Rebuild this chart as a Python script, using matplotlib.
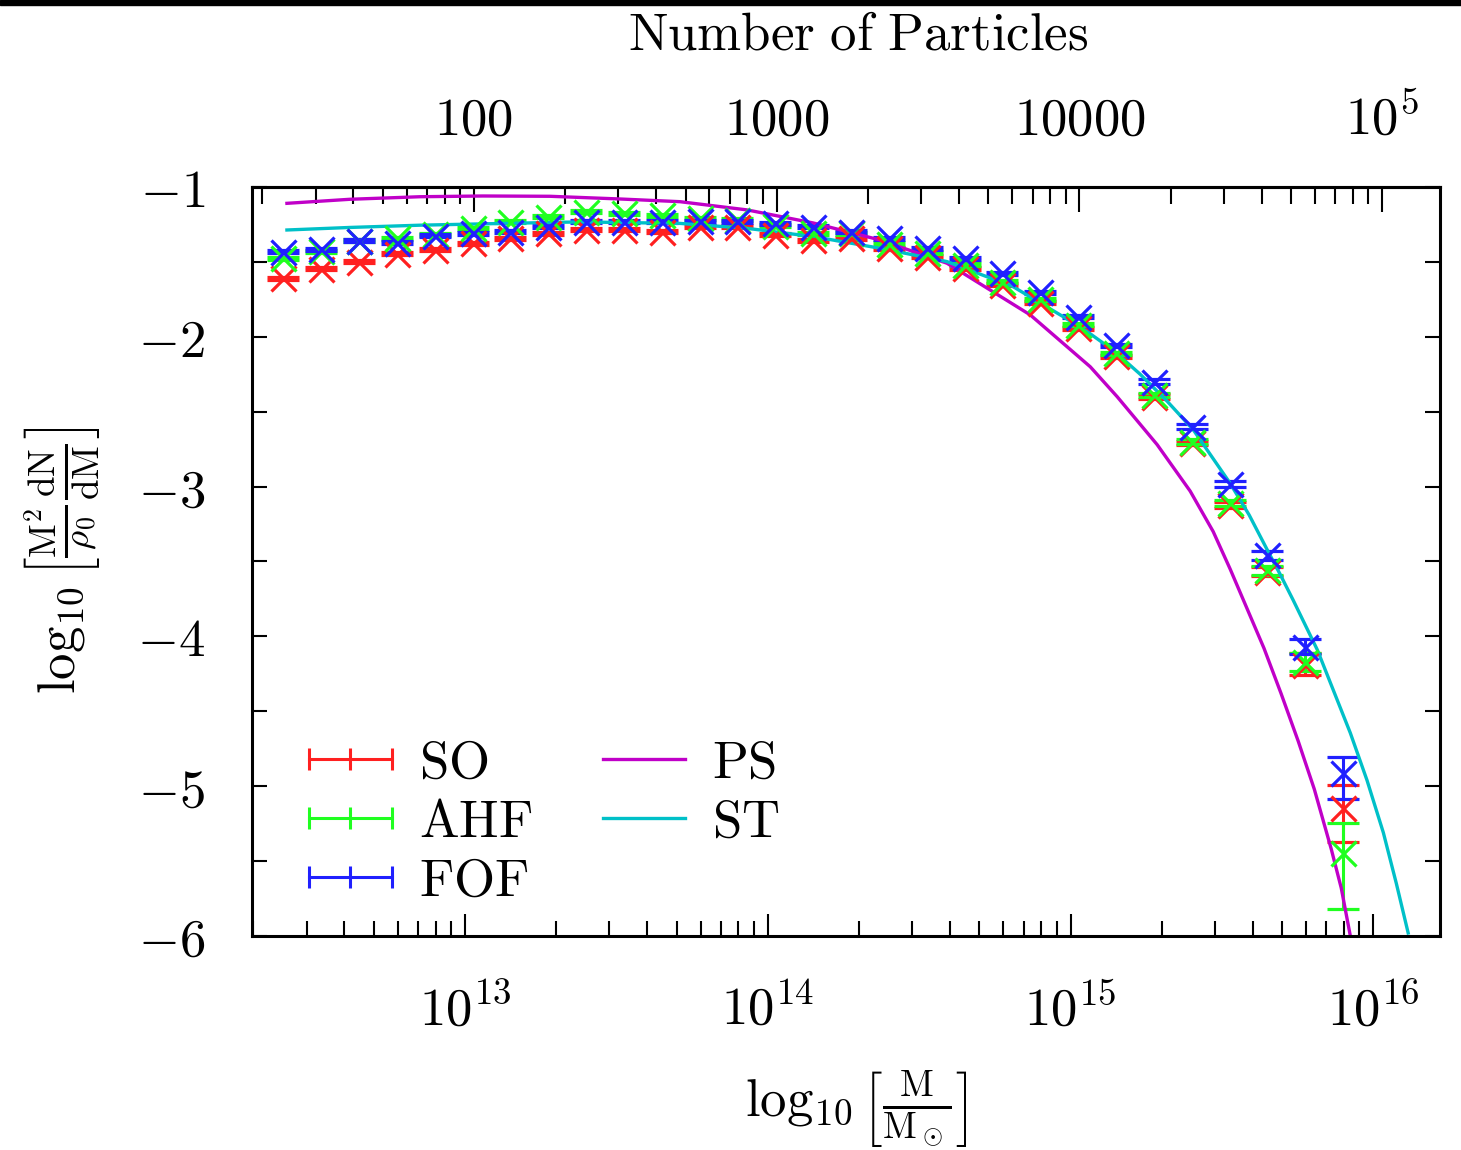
import matplotlib
matplotlib.use("Agg")
import matplotlib.pyplot as plt
from matplotlib.lines import Line2D
from matplotlib.patches import Rectangle
from matplotlib.ticker import (FuncFormatter, MultipleLocator, LogLocator,
                               NullFormatter, FixedLocator)
import numpy as np

plt.rcParams['mathtext.fontset'] = 'cm'
plt.rcParams['font.family'] = 'serif'

# mass bins, log10(M / Msun)
log_mass = [12.400, 12.525, 12.650, 12.775, 12.900, 13.025, 13.150, 13.275,
            13.400, 13.525, 13.650, 13.775, 13.900, 14.025, 14.150, 14.275,
            14.400, 14.525, 14.650, 14.775, 14.900, 15.025, 15.150, 15.275,
            15.400, 15.525, 15.650, 15.775, 15.900]

so_vals = [-1.610, -1.547, -1.498, -1.447, -1.420, -1.376, -1.343, -1.309,
           -1.287, -1.287, -1.298, -1.265, -1.265, -1.320, -1.354, -1.343,
           -1.409, -1.465, -1.543, -1.654, -1.772, -1.943, -2.130, -2.400,
           -2.710, -3.120, -3.567, -4.190, -5.148]
ahf_vals = [-1.474, -1.430, -1.360, -1.343, -1.315, -1.276, -1.232, -1.198,
            -1.165, -1.176, -1.187, -1.210, -1.220, -1.260, -1.310, -1.310,
            -1.380, -1.440, -1.520, -1.632, -1.750, -1.921, -2.110, -2.389,
            -2.700, -3.110, -3.557, -4.169, -5.448]
fof_vals = [-1.432, -1.416, -1.358, -1.372, -1.325, -1.309, -1.298, -1.265,
            -1.232, -1.232, -1.232, -1.227, -1.227, -1.243, -1.265, -1.298,
            -1.343, -1.409, -1.476, -1.576, -1.703, -1.866, -2.055, -2.300,
            -2.600, -2.985, -3.457, -4.069, -4.914]

# error bars (lower, upper)
so_err_lo = [0.01, 0.01, 0.01, 0.01, 0.01, 0.01, 0.01, 0.01, 0.01, 0.01,
             0.01, 0.01, 0.01, 0.01, 0.01, 0.01, 0.01, 0.01, 0.01, 0.01,
             0.01, 0.01, 0.01, 0.015, 0.015, 0.02, 0.03, 0.067, 0.222]
so_err_hi = [0.01, 0.01, 0.01, 0.01, 0.01, 0.01, 0.01, 0.01, 0.01, 0.01,
             0.01, 0.01, 0.01, 0.01, 0.01, 0.01, 0.01, 0.01, 0.01, 0.01,
             0.01, 0.01, 0.01, 0.015, 0.015, 0.02, 0.03, 0.080, 0.156]
ahf_err_lo = [0.01, 0.01, 0.01, 0.01, 0.01, 0.01, 0.01, 0.01, 0.01, 0.01,
              0.01, 0.01, 0.01, 0.01, 0.01, 0.01, 0.01, 0.01, 0.01, 0.01,
              0.01, 0.01, 0.01, 0.015, 0.015, 0.02, 0.03, 0.060, 0.372]
ahf_err_hi = [0.01, 0.01, 0.01, 0.01, 0.01, 0.01, 0.01, 0.01, 0.01, 0.01,
              0.01, 0.01, 0.01, 0.01, 0.01, 0.01, 0.01, 0.01, 0.01, 0.01,
              0.01, 0.01, 0.01, 0.015, 0.015, 0.02, 0.03, 0.060, 0.205]
fof_err_lo = [0.01, 0.01, 0.01, 0.01, 0.01, 0.01, 0.01, 0.01, 0.01, 0.01,
              0.01, 0.01, 0.01, 0.01, 0.01, 0.01, 0.01, 0.01, 0.01, 0.01,
              0.01, 0.01, 0.01, 0.015, 0.015, 0.02, 0.03, 0.050, 0.174]
fof_err_hi = [0.01, 0.01, 0.01, 0.01, 0.01, 0.01, 0.01, 0.01, 0.01, 0.01,
              0.01, 0.01, 0.01, 0.01, 0.01, 0.01, 0.01, 0.01, 0.01, 0.01,
              0.01, 0.01, 0.01, 0.015, 0.015, 0.02, 0.03, 0.050, 0.111]

# Press-Schechter and Sheth-Tormen curves
ps_log_mass = [12.412, 12.620, 12.851, 13.059, 13.281, 13.512, 13.710, 13.932,
               14.150, 14.371, 14.592, 14.867, 15.065, 15.154, 15.286, 15.395,
               15.471, 15.527, 15.583, 15.639, 15.695, 15.752, 15.805, 15.861,
               15.894, 15.924]
ps_vals = [-1.109, -1.082, -1.065, -1.060, -1.062, -1.080, -1.098, -1.153,
           -1.240, -1.354, -1.509, -1.854, -2.200, -2.400, -2.720, -3.030,
           -3.300, -3.550, -3.815, -4.080, -4.380, -4.700, -5.020, -5.420,
           -5.680, -6.000]
st_log_mass = [12.412, 12.620, 12.851, 13.083, 13.380, 13.710, 13.932, 14.150,
               14.371, 14.592, 14.810, 14.976, 15.065, 15.141, 15.230, 15.319,
               15.405, 15.527, 15.590, 15.649, 15.692, 15.735, 15.815, 15.868,
               15.924, 15.979, 16.033, 16.076, 16.115]
st_vals = [-1.287, -1.270, -1.255, -1.245, -1.233, -1.243, -1.276, -1.331,
           -1.409, -1.498, -1.665, -1.866, -1.980, -2.090, -2.250, -2.430,
           -2.620, -2.978, -3.190, -3.420, -3.585, -3.757, -4.090, -4.360,
           -4.645, -4.960, -5.310, -5.650, -5.980]

particle_mass = 1.07e11   # Msun per particle, for the top axis

FS = 38
RED = '#ff2020'
GREEN = '#20ff20'
BLUE = '#2020ff'
MAGENTA = '#c000c8'
CYAN = '#00c0c8'

fig = plt.figure(figsize=(14.61, 11.5), dpi=100)
ax = fig.add_axes([252/1461, 1 - 936/1150, 1188/1461, 749/1150])

mass = 10**np.array(log_mass)
for vals, lo, hi, col in [(so_vals, so_err_lo, so_err_hi, RED),
                          (ahf_vals, ahf_err_lo, ahf_err_hi, GREEN),
                          (fof_vals, fof_err_lo, fof_err_hi, BLUE)]:
    ax.errorbar(mass, vals, yerr=[lo, hi], fmt='x', color=col, ms=18, mew=2.3,
                elinewidth=2.2, capsize=11.5, capthick=2.2)

ax.plot(10**np.array(ps_log_mass), ps_vals, color=MAGENTA, lw=2.4)
ax.plot(10**np.array(st_log_mass), st_vals, color=CYAN, lw=2.4)

ax.set_xscale('log')
ax.set_xlim(1.98e12, 1.66e16)
ax.set_ylim(-6, -1)

ax.xaxis.set_major_formatter(FuncFormatter(lambda v, p: r'$10^{%d}$' % round(np.log10(v))))
ax.xaxis.set_minor_formatter(NullFormatter())
ax.yaxis.set_major_locator(MultipleLocator(1))
ax.yaxis.set_minor_locator(MultipleLocator(0.5))
ax.yaxis.set_major_formatter(FuncFormatter(lambda v, p: r'$%d$' % round(v)))

ax.tick_params(axis='x', which='both', direction='in', top=False, labelsize=FS, pad=35, width=1.5)
ax.tick_params(axis='x', which='major', length=16)
ax.tick_params(axis='x', which='minor', length=11)
ax.tick_params(axis='y', which='both', direction='in', right=True, labelsize=FS, pad=34,
               width=1.5, length=11)
for s in ax.spines.values():
    s.set_linewidth(2.2)


def top_fmt(n, pos):
    if n >= 1e5:
        return r'$10^{%d}$' % round(np.log10(n))
    return r'$%d$' % round(n)


sec = ax.secondary_xaxis('top', functions=(lambda m: m / particle_mass,
                                            lambda n: n * particle_mass))
sec.xaxis.set_major_locator(FixedLocator([100, 1000, 10000, 100000]))
sec.xaxis.set_minor_locator(LogLocator(base=10, subs=range(2, 10)))
sec.xaxis.set_major_formatter(FuncFormatter(top_fmt))
sec.xaxis.set_minor_formatter(NullFormatter())
sec.tick_params(which='both', direction='in', labelsize=FS, pad=30, width=1.5)
sec.tick_params(which='major', length=18)
sec.tick_params(which='minor', length=12)
sec.spines['top'].set_linewidth(2.2)

handles = [Line2D([], [], color=RED, lw=2.2, marker='|', ms=16, mew=2.2),
           Line2D([], [], color=GREEN, lw=2.2, marker='|', ms=16, mew=2.2),
           Line2D([], [], color=BLUE, lw=2.2, marker='|', ms=16, mew=2.2),
           Line2D([], [], color=MAGENTA, lw=2.4),
           Line2D([], [], color=CYAN, lw=2.4)]
labels = [r'$\mathrm{SO}$', r'$\mathrm{AHF}$', r'$\mathrm{FOF}$',
          r'$\mathrm{PS}$', r'$\mathrm{ST}$']
ax.legend(handles, labels, ncol=2, numpoints=3, frameon=False, loc='upper left',
          bbox_to_anchor=(0.0345, 0.2644), borderaxespad=0, borderpad=0,
          fontsize=FS, handlelength=2.17, handletextpad=0.21,
          columnspacing=1.04, labelspacing=0.15)

fig.text(62/1461, 1 - 560/1150,
         r'$\log_{10}\left[\frac{\mathrm{M}^2}{\rho_0}\frac{\mathrm{dN}}{\mathrm{dM}}\right]$',
         rotation=90, ha='center', va='center', fontsize=FS)
fig.text(856/1461, 1 - 1110/1150,
         r'$\log_{10}\left[\frac{\mathrm{M}}{\mathrm{M}_\odot}\right]$',
         ha='center', va='center', fontsize=FS)
fig.text(858/1461, 1 - 50/1150, r'$\mathrm{Number\ of\ Particles}$',
         ha='center', va='baseline', fontsize=FS)

# black strip along the top edge
fig.add_artist(Rectangle((0, 1 - 5/1150), 1, 5/1150, transform=fig.transFigure,
                         color='black'))

fig.savefig('out.png', dpi=100)
